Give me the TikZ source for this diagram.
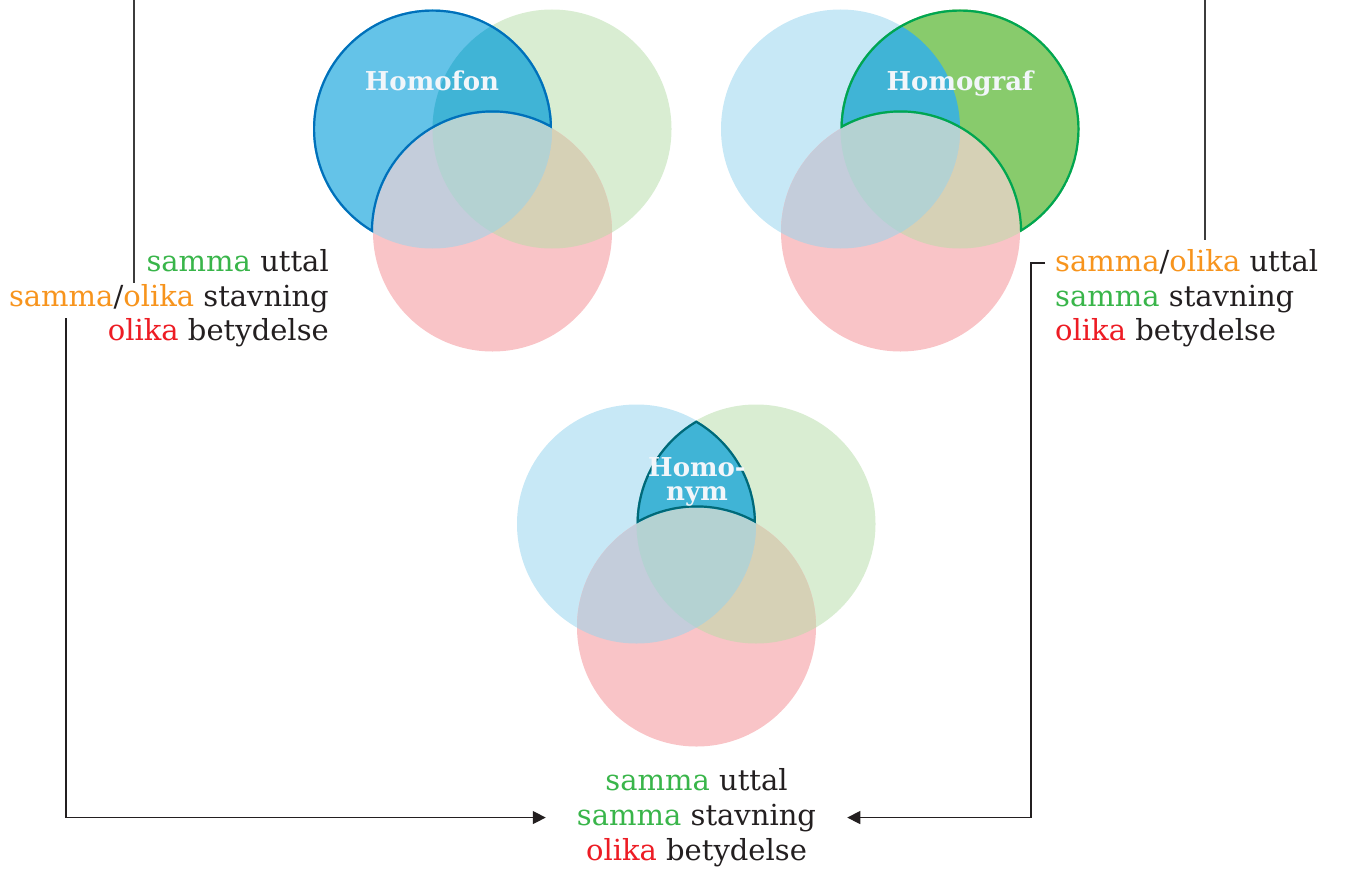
\documentclass[tikz,border=0pt]{standalone}
\usepackage{fontspec}
\setmainfont{DejaVu Serif}
\usetikzlibrary{arrows.meta}
\definecolor{cb}{RGB}{199,232,246}
\definecolor{cg}{RGB}{217,237,210}
\definecolor{cr}{RGB}{249,196,199}
\definecolor{cbg}{RGB}{181,211,211}
\definecolor{cbr}{RGB}{196,205,219}
\definecolor{cgr}{RGB}{214,209,182}
\definecolor{cbgr}{RGB}{180,210,210}
\definecolor{hb}{RGB}{100,195,232}
\definecolor{ht}{RGB}{64,180,214}
\definecolor{hg}{RGB}{136,203,108}
\definecolor{ob}{RGB}{0,112,186}
\definecolor{og}{RGB}{0,166,81}
\definecolor{ot}{RGB}{0,105,120}
\definecolor{tg}{RGB}{57,181,74}
\definecolor{to}{RGB}{247,148,29}
\definecolor{tr}{RGB}{237,28,36}
\definecolor{tk}{RGB}{35,31,32}
\definecolor{lc}{RGB}{60,60,60}
\definecolor{lw}{RGB}{242,246,250}
\newcommand\VR{119.5}
\newcommand\vennBase{%
  \fill[cb] (0,0) circle (\VR);
  \fill[cg] (119.5,0) circle (\VR);
  \fill[cr] (60,103) circle (\VR);
  \begin{scope}
    \clip (119.5,0) circle (\VR);
    \fill[cgr] (60,103) circle (\VR);
  \end{scope}
  \begin{scope}
    \clip (0,0) circle (\VR);
    \fill[cbg] (119.5,0) circle (\VR);
    \fill[cbr] (60,103) circle (\VR);
    \clip (119.5,0) circle (\VR);
    \fill[cbgr] (60,103) circle (\VR);
  \end{scope}}
\newcommand\outRed{\clip (-300,-300) rectangle (500,500) (60,103) circle (\VR);}
\tikzset{
  txt/.style={font=\fontsize{29}{34}\selectfont, text=tk, inner sep=0pt},
  lab/.style={font=\bfseries\fontsize{26}{23.5}\selectfont, text=lw, inner sep=0pt, align=center},
  conn/.style={draw=lc, line width=1.2pt},
  arr/.style={conn, draw=tk, -{Triangle[length=13pt,width=13pt]}},
  edge/.style={line width=4.4pt},
}
\begin{document}
\begin{tikzpicture}[x=1pt,y=-1pt]
\useasboundingbox (0,0) rectangle (1372,872);
% top-left Venn (Homofon)
\begin{scope}[shift={(432.5,129)}]
  \vennBase
  \begin{scope}[even odd rule]
    \outRed
    \clip (0,0) circle (\VR);
    \fill[hb] (0,0) circle (\VR);
    \fill[ht] (119.5,0) circle (\VR);
    \draw[edge, ob] (0,0) circle (\VR) (60,103) circle (\VR);
  \end{scope}
\end{scope}
% top-right Venn (Homograf)
\begin{scope}[shift={(840.5,129)}]
  \vennBase
  \begin{scope}[even odd rule]
    \outRed
    \clip (119.5,0) circle (\VR);
    \fill[hg] (119.5,0) circle (\VR);
    \fill[ht] (0,0) circle (\VR);
    \draw[edge, og] (119.5,0) circle (\VR) (60,103) circle (\VR);
  \end{scope}
\end{scope}
% bottom Venn (Homonym)
\begin{scope}[shift={(636.5,524)}]
  \vennBase
  \begin{scope}[even odd rule]
    \outRed
    \clip (0,0) circle (\VR);
    \clip (119.5,0) circle (\VR);
    \fill[ht] (0,0) circle (\VR);
    \draw[edge, ot] (0,0) circle (\VR) (119.5,0) circle (\VR) (60,103) circle (\VR);
  \end{scope}
\end{scope}
% labels
\node[lab, anchor=base] (hf) at (432,91) {Homofon};
\node[lab, anchor=base] (hg) at (960,91) {Homograf};
\node[lab] (hn) at (697,482) {Homo-\\nym};
% left text
\node[txt, anchor=base east] (l1) at (329,271) {\textcolor{tg}{samma} uttal};
\node[txt, anchor=base east] (l2) at (329,306) {\textcolor{to}{samma}/\textcolor{to}{olika} stavning};
\node[txt, anchor=base east] (l3) at (329,340) {\textcolor{tr}{olika} betydelse};
% right text
\node[txt, anchor=base west] (r1) at (1055,271) {\textcolor{to}{samma}/\textcolor{to}{olika} uttal};
\node[txt, anchor=base west] (r2) at (1055,306) {\textcolor{tg}{samma} stavning};
\node[txt, anchor=base west] (r3) at (1055,340) {\textcolor{tr}{olika} betydelse};
% bottom text
\node[txt, anchor=base] (b1) at (696.5,790.5) {\textcolor{tg}{samma} uttal};
\node[txt, anchor=base] (b2) at (696.5,825) {\textcolor{tg}{samma} stavning};
\node[txt, anchor=base] (b3) at (696.5,860) {\textcolor{tr}{olika} betydelse};
% connectors
\coordinate (lt) at (134,0);
\coordinate (lb) at (134,283);
\coordinate (rt) at (1205,0);
\coordinate (rb) at (1205,240);
\coordinate (la) at (66,318);
\coordinate (ra) at (1045,263);
\draw[conn] (lt) -- (lb);
\draw[conn] (rt) -- (rb);
\draw[arr] (la) |- ([xshift=-31pt]b2.west);
\draw[arr] (ra) -- ++(-14,0) |- ([xshift=31pt]b2.east);
\end{tikzpicture}
\end{document}
